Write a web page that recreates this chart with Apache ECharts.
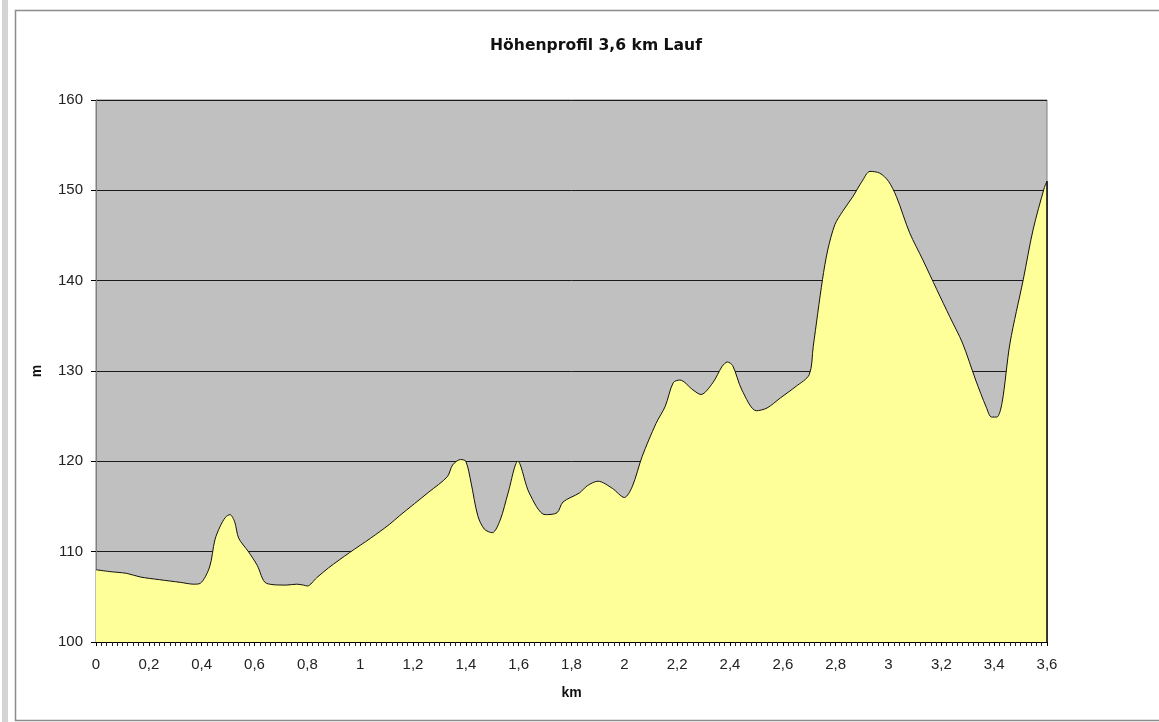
<!DOCTYPE html>
<html>
<head>
<meta charset="utf-8">
<script src="https://cdn.jsdelivr.net/npm/echarts@6/dist/echarts.min.js"></script>
<style>html,body{margin:0;padding:0;background:#fff;}#c{width:1159px;height:722px;}</style>
</head>
<body>
<div id="c"></div>
<script>
const titleText = 'Höhenprofil 3,6 km Lauf';
const xName = 'km';
const yName = 'm';
const km = [0,0.05,0.116,0.167,0.24,0.32,0.37,0.395,0.43,0.45,0.47,0.49,0.507,0.525,0.54,0.577,0.61,0.645,0.72,0.76,0.785,0.8,0.835,0.88,0.96,1.04,1.11,1.15,1.26,1.33,1.35,1.38,1.4,1.42,1.445,1.47,1.5,1.53,1.56,1.597,1.64,1.7,1.745,1.768,1.83,1.86,1.9,1.955,2.0,2.03,2.067,2.12,2.155,2.185,2.21,2.26,2.29,2.335,2.37,2.39,2.41,2.445,2.5,2.54,2.59,2.65,2.7,2.715,2.75,2.77,2.797,2.827,2.865,2.9,2.93,2.967,3.0,3.03,3.08,3.13,3.183,3.232,3.28,3.33,3.37,3.39,3.41,3.43,3.46,3.51,3.547,3.59,3.6];
const height = [108.0,107.8,107.6,107.2,106.9,106.6,106.4,106.5,108.3,111.3,112.8,113.8,114.1,113.3,111.5,110.0,108.5,106.5,106.3,106.4,106.3,106.2,107.1,108.2,109.9,111.5,113.0,114.0,116.6,118.3,119.6,120.2,120.0,117.6,114.0,112.5,112.1,113.5,116.5,120.0,116.5,114.1,114.3,115.5,116.5,117.3,117.8,117.0,116.0,117.2,120.5,124.2,126.1,128.7,129.0,127.9,127.4,128.7,130.5,131.0,130.6,127.9,125.6,125.9,127.0,128.3,129.6,132.7,140.1,143.4,146.2,147.7,149.3,151.0,152.1,151.9,151.0,149.3,145.3,142.3,139.0,136.0,133.1,129.0,126.0,124.9,124.9,126.5,133.1,140.1,145.6,150.3,151.0];
const yMin = 100, yMax = 160, yStep = 10;
const xMin = 0, xMax = 3.6, xStep = 0.2;

const data = km.map((k, i) => [k, height[i]]);
const lastKm = km[km.length - 1], lastH = height[height.length - 1];

const chart = echarts.init(document.getElementById('c'), null, {renderer: 'canvas'});
chart.setOption({
  backgroundColor: '#ffffff',
  animation: false,
  graphic: [
    {type: 'rect', shape: {x: 2, y: 0, width: 6, height: 722}, style: {fill: '#d4d4d4'}, z: -10},
    {type: 'rect', shape: {x: 15.5, y: 10.5, width: 1200, height: 710}, style: {fill: 'none', stroke: '#8c8c8c', lineWidth: 1.5}, z: -10}
  ],
  title: {
    text: titleText,
    left: 591,
    textAlign: 'center',
    top: 33,
    textStyle: {fontFamily: 'DejaVu Sans', fontWeight: 'bold', fontSize: 15.6, color: '#111'}
  },
  grid: {
    left: 96, right: 112, top: 100, bottom: 80,
    show: true, backgroundColor: '#c0c0c0', borderColor: '#808080', borderWidth: 1
  },
  xAxis: {
    type: 'value', min: xMin, max: xMax, interval: xStep,
    name: xName, nameLocation: 'middle', nameGap: 44,
    nameTextStyle: {fontFamily: 'Liberation Sans', fontWeight: 'bold', fontSize: 14, color: '#111'},
    axisLine: {show: true, lineStyle: {color: '#000', width: 1}},
    axisTick: {show: true, length: 4, lineStyle: {color: '#000'}},
    minorTick: {show: true, splitNumber: 10, length: 4, lineStyle: {color: '#222'}},
    splitLine: {show: false},
    axisLabel: {
      margin: 15, color: '#222', fontFamily: 'Liberation Sans', fontSize: 15,
      formatter: v => String(Math.round(v * 10) / 10).replace('.', ',')
    }
  },
  yAxis: {
    type: 'value', min: yMin, max: yMax, interval: yStep,
    name: yName, nameLocation: 'middle', nameGap: 52, nameRotate: 90,
    nameTextStyle: {fontFamily: 'Liberation Sans', fontWeight: 'bold', fontSize: 14, color: '#111'},
    axisLine: {show: true, lineStyle: {color: '#808080', width: 1}},
    axisTick: {show: true, length: 5, lineStyle: {color: '#000'}},
    splitLine: {show: true, lineStyle: {color: '#1a1a1a', width: 1}},
    axisLabel: {margin: 13, color: '#222', fontFamily: 'Liberation Sans', fontSize: 15}
  },
  series: [{
    type: 'line',
    data: data,
    smooth: 0.3,
    symbol: 'none',
    lineStyle: {color: '#111', width: 1},
    areaStyle: {color: '#ffff99', opacity: 1, origin: 'start'},
    markLine: {
      silent: true, symbol: 'none', label: {show: false},
      lineStyle: {color: '#000', width: 1.5, type: 'solid'},
      data: [[{coord: [lastKm, yMin]}, {coord: [lastKm, lastH]}]]
    }
  }]
});
</script>
</body>
</html>
